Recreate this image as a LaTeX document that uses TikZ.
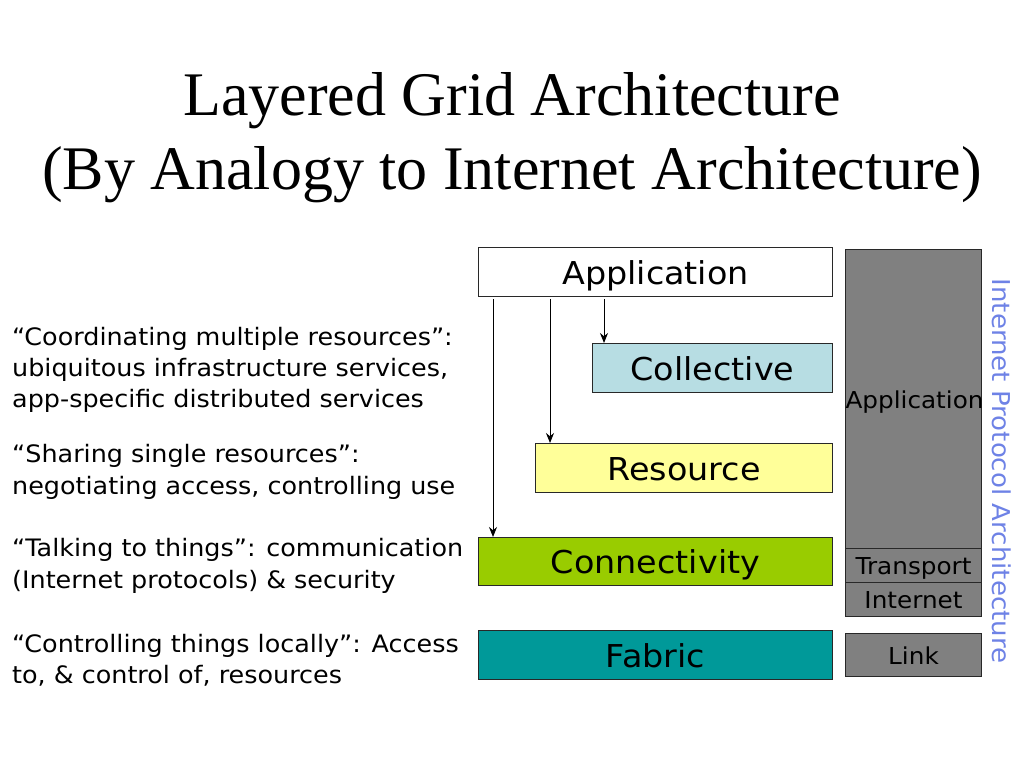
\documentclass[tikz,border=0pt]{standalone}
\usepackage{fontspec}
\setmainfont{DejaVu Sans}[FakeStretch=1.06]
\newfontfamily\titlefont{Liberation Serif}
\usetikzlibrary{arrows.meta}
\definecolor{collcol}{RGB}{183,221,227}
\definecolor{rescol}{RGB}{255,255,153}
\definecolor{conncol}{RGB}{153,204,0}
\definecolor{fabcol}{RGB}{0,153,153}
\definecolor{ipcol}{RGB}{110,130,230}
\definecolor{edgecol}{RGB}{40,40,40}
\tikzset{
  layer/.style={draw=edgecol, line width=1pt, minimum width=354pt, minimum height=49pt, inner sep=0pt, anchor=north west, text height=27pt, text depth=3pt, font=\fontsize{31.5}{34}\selectfont},
  iplayer/.style={draw=edgecol, line width=1pt, fill=gray, minimum width=136pt, text width=136pt, align=center, inner sep=0pt, anchor=north west, text height=21pt, text depth=2.5pt, font=\fontsize{23.3}{26}\selectfont},
  note/.style={anchor=west, align=left, inner sep=0pt, font=\fontsize{24}{31.3}\selectfont},
}
\begin{document}
\begin{tikzpicture}[x=1pt, y=-1pt, >={Stealth[length=10pt,width=8pt]}]
		\useasboundingbox[fill=white](0,0)rectangle(1024,768);
		% title
		\node[font=\titlefont\fontsize{62}{73}\selectfont] (title1) at (512,101) {Layered Grid Architecture};
		\node[font=\titlefont\fontsize{62}{73}\selectfont] (title2) at (512,175) {(By Analogy to Internet Architecture)};
		% grid layers
		\node[layer, fill=white] (app) at (478,247) {Application};
		\node[layer, fill=collcol, minimum width=240pt] (coll) at (592,343) {Collective};
		\node[layer, fill=rescol, minimum width=297pt] (res) at (535,443) {Resource};
		\node[layer, fill=conncol, minimum height=48pt] (conn) at (478,537) {Connectivity};
		\node[layer, fill=fabcol] (fab) at (478,630) {Fabric};
		% arrows from application
		\coordinate (tColl) at ([xshift=12pt]coll.north west);
		\coordinate (tRes) at ([xshift=15pt]res.north west);
		\coordinate (tConn) at ([xshift=15pt]conn.north west);
		\foreach \t in {tColl,tRes,tConn}\draw[->, line width=1pt, shorten <=2pt](\t |- app.south)--(\t);
		% internet protocol stack
		\node[iplayer, minimum height=299pt] (ipapp) at (845,249) {Application};
		\node[iplayer, minimum height=34pt] (iptrans) at (845,548) {Transport};
		\node[iplayer, minimum height=34pt] (ipnet) at (845,582) {Internet};
		\node[iplayer, minimum height=43pt] (iplink) at (845,633) {Link};
		\node[rotate=-90, text=ipcol, font=\fontsize{24.6}{27}\selectfont] (iplabel) at (1002,471) {Internet Protocol Architecture};
		% notes
		\node[note] (nColl) at (12,370) {“Coordinating multiple resources”:\\ubiquitous infrastructure services,\\app-specific distributed services};
		\node[note] (nRes) at (12,472) {“Sharing single resources”:\\negotiating access, controlling use};
		\node[note] (nConn) at (12,566) {“Talking to things”: communication\\(Internet protocols) \& security};
		\node[note] (nFab) at (12,660) {“Controlling things locally”: Access\\to, \& control of, resources};
	\end{tikzpicture}
\end{document}
